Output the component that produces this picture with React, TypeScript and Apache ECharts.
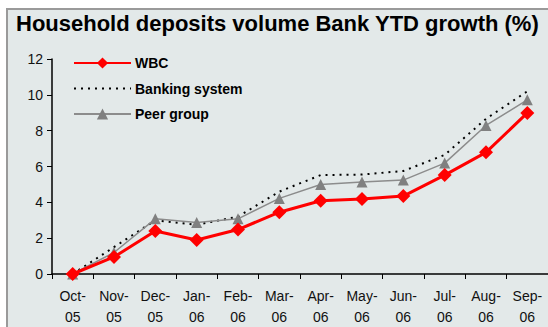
import React, { useEffect, useRef } from "react";
import * as echarts from "echarts";

const categories = ["Oct-\n05", "Nov-\n05", "Dec-\n05", "Jan-\n06", "Feb-\n06", "Mar-\n06", "Apr-\n06", "May-\n06", "Jun-\n06", "Jul-\n06", "Aug-\n06", "Sep-\n06"];
const wbc = [0, 0.95, 2.4, 1.9, 2.48, 3.45, 4.09, 4.18, 4.35, 5.52, 6.79, 8.99];
const bankingSystem = [0, 1.5, 3.0, 2.75, 3.2, 4.6, 5.52, 5.55, 5.75, 6.65, 8.66, 10.2];
const peerGroup = [0, 1.2, 3.08, 2.87, 3.08, 4.22, 5.0, 5.13, 5.24, 6.19, 8.29, 9.72];
const yTicks = { min: 0, max: 12, interval: 2 };

const FONT = "Arial, 'Liberation Sans', sans-serif";

export default function App() {
  const ref = useRef<HTMLDivElement>(null);
  useEffect(() => {
    if (!ref.current) return;
    const chart = echarts.init(ref.current, null, { renderer: "svg" });
    chart.setOption({
      animation: false,
      backgroundColor: "#ffffff",
      graphic: [
        {
          type: "rect",
          shape: { x: 7, y: 9, width: 600, height: 400 },
          style: { fill: "#E3E9E9", stroke: "#9A9A9A", lineWidth: 2 },
          z: -10,
        },
        {
          type: "text",
          x: 16,
          y: 12,
          style: {
            text: "Household deposits volume Bank YTD growth (%)",
            font: `bold 22px ${FONT}`,
            fill: "#000000",
          },
        },
      ],
      grid: { left: 52, right: 0, top: 59, bottom: 49, containLabel: false },
      legend: {
        orient: "vertical",
        left: 68,
        top: 51,
        itemWidth: 57,
        itemHeight: 14,
        itemGap: 11.5,
        textStyle: { fontFamily: FONT, fontWeight: "bold", fontSize: 14, color: "#000", padding: [0, 0, 0, -1] },
        data: [
          "WBC",
          { name: "Banking system", itemStyle: { color: "transparent", borderWidth: 0, opacity: 0 } },
          "Peer group",
        ],
      },
      xAxis: {
        type: "category",
        data: categories,
        boundaryGap: true,
        axisLine: { lineStyle: { color: "#000", width: 1.5 } },
        axisTick: { show: true, interval: 0, length: 5, lineStyle: { color: "#000" } },
        axisLabel: {
          interval: 0,
          fontFamily: FONT,
          fontSize: 14,
          color: "#111",
          lineHeight: 21,
          margin: 11,
        },
      },
      yAxis: {
        type: "value",
        min: yTicks.min,
        max: yTicks.max,
        interval: yTicks.interval,
        splitLine: { show: false },
        axisLine: { show: true, lineStyle: { color: "#000", width: 1.5 } },
        axisTick: { show: true, length: 5, lineStyle: { color: "#000" } },
        axisLabel: { fontFamily: FONT, fontSize: 14, color: "#111", margin: 9 },
      },
      series: [
        {
          name: "Banking system",
          type: "line",
          data: bankingSystem,
          symbol: "none",
          lineStyle: { color: "#000", width: 2, type: [2, 5] },
          itemStyle: { color: "#000" },
          z: 2,
        },
        {
          name: "Peer group",
          type: "line",
          data: peerGroup,
          symbol: "triangle",
          symbolSize: 11,
          lineStyle: { color: "#8C8C8C", width: 1.5 },
          itemStyle: { color: "#808080" },
          z: 3,
        },
        {
          name: "WBC",
          type: "line",
          data: wbc,
          symbol: "diamond",
          symbolSize: 14,
          lineStyle: { color: "#FF0000", width: 3 },
          itemStyle: { color: "#FF0000" },
          z: 4,
        },
      ],
    });
    return () => chart.dispose();
  }, []);
  return (
    <div
      ref={ref}
      style={{ position: "absolute", left: 0, top: 0, width: 548, height: 327 }}
    />
  );
}
